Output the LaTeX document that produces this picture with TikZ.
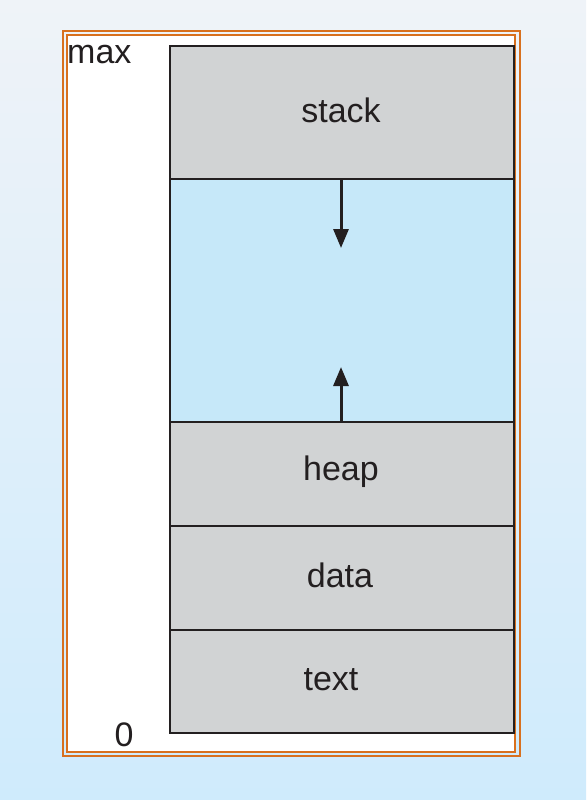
\documentclass[tikz,border=0pt]{standalone}
\usepackage{fontspec}
\setmainfont{Liberation Sans}
\usetikzlibrary{arrows.meta}
\definecolor{bgtop}{HTML}{EFF3F8}
\definecolor{bgbot}{HTML}{CFEBFC}
\definecolor{frameor}{HTML}{D8701E}
\definecolor{segray}{HTML}{D1D3D4}
\definecolor{segblue}{HTML}{C6E8F9}
\definecolor{ink}{HTML}{231F20}
\tikzset{
  seg/.style={draw=ink, line width=1.4pt, fill=segray, minimum width=344pt, inner sep=0pt, outer sep=0pt, text=ink},
  growarrow/.style={draw=ink, line width=3pt, -{Triangle[length=19pt,width=15pt]}},
  lbl/.style={font=\fontsize{34}{38}\selectfont, text=ink, inner sep=0pt},
  frameline/.style={draw=frameor, line width=2pt}
}
\begin{document}
\begin{tikzpicture}[x=1pt,y=-1pt]
\shade[top color=bgtop, bottom color=bgbot] (0,0) rectangle (586,800);
\useasboundingbox (0,0) rectangle (586,800);
\fill[white] (66.7,35) rectangle (514.8,751.5);
\draw[frameline] (62.7,31) rectangle (520,756);
\draw[frameline] (66.7,35) rectangle (514.8,751.5);
\node[seg, minimum height=133pt, anchor=north west] (stack) at (170,46) {};
\node[seg, fill=segblue, minimum height=243pt, anchor=north west] (free) at (170,179) {};
\node[seg, minimum height=104pt, anchor=north west] (heap) at (170,422) {};
\node[seg, minimum height=104pt, anchor=north west] (data) at (170,526) {};
\node[seg, minimum height=103pt, anchor=north west] (text) at (170,630) {};
\node[lbl] (tstack) at (341,110) {stack};
\node[lbl] (theap) at (341,472) {heap};
\node[lbl] (tdata) at (340,575) {data};
\node[lbl] (ttext) at (331,680) {text};
\node[lbl, anchor=west] (max) at (67,55) {max};
\node[lbl] (zero) at (124,735) {0};
\coordinate (downend) at (341,248);
\coordinate (upend) at (341,367);
\draw[growarrow] (free.north -| downend) -- (downend);
\draw[growarrow] (free.south -| upend) -- (upend);
\end{tikzpicture}
\end{document}
